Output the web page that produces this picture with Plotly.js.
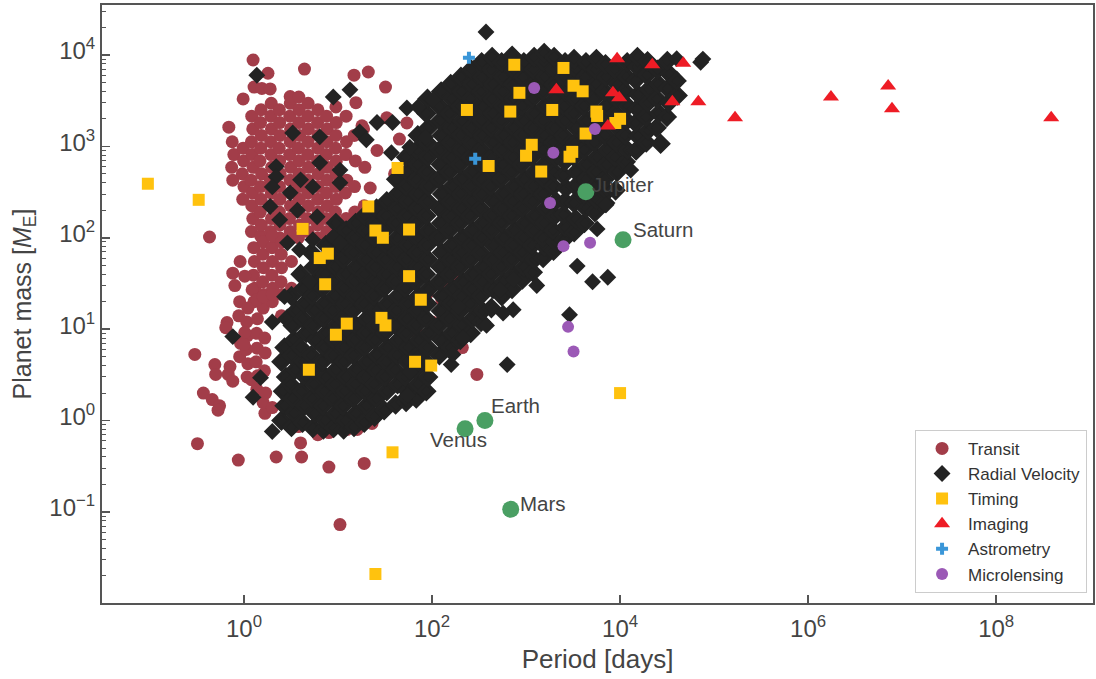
<!DOCTYPE html>
<html>
<head>
<meta charset="utf-8">
<script src="https://cdn.plot.ly/plotly-3.0.1.min.js"></script>
<style>html,body{margin:0;padding:0;background:#fff;}#chart{width:1096px;height:679px;}</style>
</head>
<body>
<div id="chart"></div>
<script>
// ---- Data: [period (days), planet mass (Earth masses)] ----
const transitHotJupiters = [
[0.76,427],[0.74,589],[0.78,813],[0.75,1122],[0.69,1620],
[0.97,263],[1.0,363],[0.96,501],[0.99,692],[0.98,955],[0.98,3300],
[1.2,117],[1.24,162],[1.21,224],[1.23,309],[1.19,427],[1.25,589],[1.22,813],[1.2,1122],[1.24,1549],[1.21,2138],[1.25,8800],[1.28,4450],
[1.5,105],[1.53,138],[1.49,191],[1.52,263],[1.5,363],[1.54,501],[1.48,692],[1.51,955],[1.53,1318],[1.5,1820],[1.52,2512],[1.55,4300],
[1.92,117],[1.96,162],[1.93,224],[1.95,309],[1.91,427],[1.97,589],[1.94,813],[1.92,1122],[1.96,1549],[1.93,2138],[1.95,2951],[1.8,6300],[1.9,4250],
[2.4,100],[2.42,138],[2.38,191],[2.41,263],[2.39,363],[2.43,501],[2.4,692],[2.37,955],[2.42,1318],[2.4,1820],[2.38,2512],
[3.1,117],[3.05,162],[3.12,224],[3.08,309],[3.1,427],[3.14,589],[3.06,813],[3.1,1122],[3.13,1549],[3.07,2138],[3.11,2951],[3.1,3500],
[3.8,100],[3.9,138],[3.83,191],[3.87,263],[3.82,363],[3.88,501],[3.85,692],[3.8,955],[3.9,1318],[3.84,1820],[3.86,2512],[3.83,3467],[4.4,7000],
[4.8,117],[4.75,162],[4.85,224],[4.78,309],[4.82,427],[4.86,589],[4.77,813],[4.8,1122],[4.84,1549],[4.79,2138],[4.81,2951],
[6.1,100],[6.05,138],[6.15,191],[6.08,263],[6.12,363],[6.16,501],[6.06,692],[6.1,955],[6.14,1318],[6.07,1820],[6.11,2512],
[7.6,117],[7.5,162],[7.7,224],[7.55,309],[7.65,427],[7.7,589],[7.52,813],[7.6,1122],[7.68,1549],[7.56,2138],
[9.5,138],[9.4,191],[9.6,263],[9.45,363],[9.55,501],[9.6,692],[9.42,955],[9.5,1318],[9.58,1820],[9.5,2700],
[12.2,162],[12.0,309],[12.4,427],[12.1,813],[12.3,1122],[12.2,2138],
[15.1,191],[15.0,363],[15.3,692],[14.9,1318],[15.5,3000],[14.8,6000],
[19,224],[19.3,589],[18.7,1549],[21,6500],[18,1680],
[32,4450],[33,2050],[54,1800],[48,260],[69,850],[26,900],[40,500],[22,350],[45,1200],[60,400]
];
const transitSmall = [
[1.28,20],[1.3,28],[1.26,39],[1.29,55],[1.27,78],
[1.6,17],[1.62,24],[1.58,33],[1.61,47],[1.59,66],[1.6,90],
[2.0,20],[2.02,28],[1.98,39],[2.01,55],[1.99,78],[2.0,105],
[2.5,14],[2.52,24],[2.48,33],[2.51,47],[2.49,66],[2.5,90],
[3.2,28],[3.2,55],[3.2,105],
[0.9,5],[0.92,7],[0.88,14],[0.9,20],[0.91,55],
[1.08,3],[1.1,4.2],[1.06,6],[1.09,8.5],[1.07,12],[1.1,17],
[1.37,2.2],[1.4,3.1],[1.35,4.4],[1.38,6.2],[1.36,9],[1.39,13],
[1.67,1.2],[1.7,2],[1.65,3.5],[1.68,5.5],[1.66,8],
[1.0,6.8],[1.2,2.8],
[22,3.2],[30,4.4],[48,6],[70,9],[35,2.3],[100,12],[120,8],[140,30],[90,25]
];
const transitScattered = [
[0.3,5.3],[0.32,0.56],[0.43,102],[0.37,2.0],[0.49,4.1],[0.5,3.2],[0.46,1.7],[0.55,1.45],[0.53,1.3],
[0.66,11.8],[0.64,10.4],[0.71,3.9],[0.68,3.2],[0.76,2.7],[0.76,41],[1.02,38],[0.8,30],[0.87,0.37],[1.02,9.2],
[1.22,27],[1.37,21],[1.6,22.7],[2.0,24],[1.6,1.57],[2.0,1.39],[2.2,0.4],[4.1,0.4],[3.8,0.86],[4.0,0.57],
[6.1,0.7],[8,0.74],[12.5,0.8],[16,0.8],[23,0.93],[8,0.31],[19,0.34],[10.5,0.073],
[180,37],[280,37],[210,6.3],[290,15.5],[300,3.2],[127,21]
];
const rvSmall = [
[2.5,1.0],[2.7,1.45],[2.6,2.1],[2.8,3.0],[2.5,4.4],[2.7,6.3],[2.9,13],
[3.2,0.85],[3.4,1.2],[3.3,1.75],[3.1,2.5],[3.5,3.6],[3.2,5.2],[3.4,7.6],[3.3,11],[3.6,16],[3.2,23],
[4.2,0.95],[4.4,1.45],[4.1,2.1],[4.5,3.0],[4.3,4.4],[4.0,6.3],[4.6,9.1],[4.2,13],[4.4,19],[4.3,28],[4.0,40],
[5.4,0.83],[5.7,1.2],[5.3,1.75],[5.6,2.5],[5.5,3.6],[5.2,5.2],[5.8,7.6],[5.4,11],[5.6,16],[5.3,23],[5.7,33],[5.5,48],[5.2,69],
[7.0,0.8],[7.3,1.0],[6.9,1.45],[7.2,2.1],[7.4,3.0],[6.8,4.4],[7.1,6.3],[7.5,9.1],[7.0,13],[7.2,19],[6.9,28],[7.3,40],[7.1,58],[7.4,83],
[9.0,0.83],[9.4,1.2],[8.8,1.75],[9.2,2.5],[9.5,3.6],[8.9,5.2],[9.1,7.6],[9.6,11],[8.7,16],[9.3,23],[9.0,33],[9.4,48],[8.8,69],[9.2,100],[9.5,145],
[11.5,0.8],[12,1.0],[11.3,1.45],[11.8,2.1],[12.2,3.0],[11.4,4.4],[11.7,6.3],[12.3,9.1],[11.2,13],[11.9,19],[11.6,28],[12.1,40],[11.4,58],[11.8,83],[12.2,120],
[14.8,0.85],[15.5,1.2],[14.5,1.75],[15.2,2.5],[15.7,3.6],[14.6,5.2],[15,7.6],[15.6,11],[14.4,16],[15.3,23],[14.9,33],[15.5,48],[14.7,69],[15.1,100],[15.4,145],
[19,0.95],[20,1.45],[19.3,2.1],[19.8,3.0],[20.3,4.4],[19,6.3],[19.6,9.1],[20.2,13],[18.8,19],[19.7,28],[19.2,40],[20,58],[19.4,83],[19.9,120],[19.1,174],
[24.5,1.1],[25.5,1.75],[24.2,2.5],[25.2,3.6],[26,5.2],[24.6,7.6],[25,11],[25.8,16],[24.3,23],[25.4,33],[24.8,48],[25.6,69],[24.4,100],[25.1,145],[25.7,209],
[31,1.3],[33,2.1],[31.5,3.0],[32.5,4.4],[33.5,6.3],[31.2,9.1],[32,13],[33.2,19],[31,28],[32.6,40],[31.8,58],[33,83],[31.4,120],[32.3,174],[33,251],
[41,1.5],[43,2.5],[40.5,3.6],[42.5,5.2],[44,7.6],[41.2,11],[42,16],[43.5,23],[40.8,33],[42.7,48],[41.6,69],[43.2,100],[41,145],[42.3,209],[43,302],[41.5,437],
[53,1.6],[55,2.1],[52,3.0],[54.5,4.4],[56,6.3],[52.5,9.1],[54,13],[55.5,19],[52,28],[54.8,40],[53.3,58],[55.2,83],[52.6,120],[54.2,174],[55.6,251],[53,363],[54.5,525],[52.8,759],
[68,1.75],[71,2.5],[67,3.6],[70,5.2],[72,7.6],[67.5,11],[69,16],[71.5,23],[67,33],[70.2,48],[68.5,69],[71,100],[67.8,145],[69.6,209],[71.2,302],[68,437],[70,631],[68.8,912],[70.5,1320],
[87,2.1],[91,3.0],[86,4.4],[90,6.3],[92.5,9.1],[86.5,13],[89,19],[92,27.5],[86,40],[90.5,58],[88,83],[91.5,120],[87,174],[89.5,251],[92,363],[87.5,525],[90,759],[88.5,1100],[91,1585],[87,2290],[89.5,3310]
];
const rvGiants = [
[120,5.2],[126,7.6],[118,11],[124,15.8],[128,23],[119,33],[123,48],[127,69],[117,100],[125,145],[121,209],[128,302],[118,437],[124,631],[120,912],[127,1320],[122,1905],[119,2750],[125,3980],
[155,6.3],[162,9.1],[152,13],[160,19],[165,27.5],[153,40],[158,58],[163,83],[151,120],[159,174],[156,251],[164,363],[152,525],[160,759],[157,1100],[163,1585],[154,2290],[161,3310],[158,4790],
[200,7.6],[208,11],[197,15.8],[206,23],[212,33],[198,48],[204,69],[210,100],[196,145],[205,209],[201,302],[209,437],[197,631],[206,912],[202,1320],[208,1905],[199,2750],[205,3980],[203,5750],
[258,9.1],[268,13],[254,19],[265,27.5],[272,40],[256,58],[263,83],[270,120],[252,174],[264,251],[259,363],[269,525],[255,759],[265,1100],[260,1585],[267,2290],[257,3310],[264,4790],[261,6920],
[332,12],[345,15.8],[328,23],[341,33],[350,48],[330,69],[339,100],[348,145],[326,209],[340,302],[334,437],[346,631],[329,912],[342,1320],[336,1905],[344,2750],[331,3980],[340,5750],[337,8320],
[428,17],[445,27.5],[422,40],[440,58],[452,83],[426,120],[437,174],[448,251],[421,363],[438,525],[431,759],[446,1100],[425,1585],[441,2290],[433,3310],[444,4790],[428,6920],[436,9500],
[552,23],[572,33],[545,48],[566,69],[580,100],[548,145],[562,209],[576,302],[542,437],[564,631],[555,912],[574,1320],[547,1905],[568,2750],[558,3980],[571,5750],[550,8320],
[710,27.5],[738,40],[702,58],[730,83],[748,120],[706,174],[724,251],[742,363],[698,525],[727,759],[715,1100],[740,1585],[704,2290],[733,3310],[719,4790],[736,6920],[712,9800],
[915,35],[950,48],[905,69],[940,100],[965,145],[910,209],[933,302],[958,437],[900,631],[937,912],[922,1320],[953,1905],[908,2750],[944,3980],[927,5750],[948,8320],
[1180,42],[1225,58],[1165,83],[1210,120],[1240,174],[1170,251],[1200,363],[1232,525],[1158,759],[1205,1100],[1185,1585],[1228,2290],[1168,3310],[1215,4790],[1192,6920],[1220,9500],
[1520,60],[1580,80],[1505,100],[1565,145],[1600,209],[1515,302],[1550,437],[1590,631],[1495,912],[1558,1320],[1530,1905],[1585,2750],[1510,3980],[1570,5750],[1540,8320],[1560,10500],
[1960,72],[2050,90],[1940,120],[2030,174],[2080,251],[1950,363],[2000,525],[2060,759],[1930,1100],[2015,1585],[1975,2290],[2045,3310],[1955,4790],[2025,6920],[1990,9500],
[2520,95],[2620,130],[2490,180],[2600,250],[2660,350],[2500,480],[2570,680],[2640,950],[2480,1320],[2590,1905],[2540,2750],[2630,3980],[2510,5750],[2600,8320],
[3250,115],[3380,160],[3220,240],[3350,363],[3420,525],[3230,759],[3310,1100],[3400,1585],[3200,2290],[3330,3310],[3270,4790],[3390,6920],[3240,9000],
[4180,145],[4360,209],[4130,302],[4320,437],[4400,631],[4150,912],[4270,1320],[4380,1905],[4120,2750],[4300,3980],[4220,5750],[4340,8320],
[5400,190],[5620,260],[5330,363],[5560,525],[5680,759],[5360,1100],[5500,1585],[5640,2290],[5300,3310],[5540,4790],[5450,6920],[5600,9000],
[6950,240],[7250,320],[6850,437],[7150,631],[7300,912],[6900,1320],[7080,1905],[7220,2750],[6820,3980],[7120,5750],[7000,7900],
[8950,330],[9300,525],[8850,759],[9200,1100],[9400,1585],[8900,2290],[9120,3310],[9350,4790],[8800,6920],
[11500,680],[12000,912],[11300,1320],[11800,1905],[12100,2750],[11400,3980],[11700,5750],[11900,8320],
[14800,900],[15400,1300],[14600,1800],[15200,2600],[15500,3700],[14700,5300],[15100,7400],[15300,9500],
[19000,1100],[20000,1500],[18800,2100],[19800,3000],[20200,4200],[19200,6000],[19600,8500],
[27000,1070],[24500,1600],[25800,2300],[24800,3300],[25500,4800],[25000,6900],
[31500,2100],[33000,3000],[32000,4300],[33500,6200],[31800,8600],
[41000,3600],[40000,5200]
];
const rvScattered = [
[40000,9100],[72000,8300],[76000,9000],[13000,550],
[375,17800],[1.37,6000],[630,4.1],[2900,14.4],[1300,30],[3500,49],[5100,33],[7400,37],[7100,230],[5700,125],
[380,11],[730,16.3],[570,15],[215,8],[160,4.1],[52,1.8],[58,3.4],[740,35],[530,27],[190,17.6],[167,5.3],[55,1.9],
[2.0,0.76],[0.76,8.3],[1.25,1.8],[1.5,2.95],[2.0,12],[2.7,22.7],
[3.3,1400],[8.9,3470],[13.4,4150],[6.4,1270],[2.2,600],[2.2,465],[6.4,660],[10.5,550],[2.0,360],[4.0,430],[5.4,360],[10.5,400],[3.1,310],
[17,1440],[20,1180],[26,1820],[38,1820],[37,850],[58,980],[85,1260],[102,3230],[54,2630],[71,2700],
[1.9,220],[2.4,157],[3.7,200],[6.0,170],[8.9,102],[3.9,74],[2.9,88],[5.4,95],[10.5,88],[5.0,33]
];
const timing = [
[0.095,390],[0.33,260],[25,0.021],[38,0.45],[10000,2.0],[4.9,3.6],[66,4.4],[98,4.0],[4.2,125],[43,580],[21,220],
[25,120],[30,100],[57,123],[6.4,60],[7.8,67],[7.3,31],[57,38],[76,21],[12.4,11.5],[9.5,8.7],[29,13.3],[32,11],
[750,7800],[2500,7200],[850,3850],[3200,4600],[4000,4000],[235,2500],[680,2400],[1900,2500],[5600,2400],[5700,2150],
[10000,2000],[8900,1800],[4300,1380],[1150,1040],[1000,790],[3100,870],[2900,770],[400,610],[1450,530]
];
const imaging = [
[9300,9100],[22000,7800],[47000,8100],[2100,4150],[8400,3850],[9800,3400],[36000,3080],[68000,3080],
[167000,2050],[7400,1670],[1.75e6,3470],[7.1e6,4560],[7.8e6,2570],[3.85e8,2050]
];
const astrometry = [[247,9300],[288,730]];
const microlensing = [[1220,4350],[5400,1550],[1950,850],[1800,240],[2500,81],[4800,88],[2800,10.6],[3200,5.7]];
const solarNames = ['Venus','Earth','Mars','Jupiter','Saturn'];
const solarPeriod = [224.7,365.25,687,4332.6,10759];
const solarMass = [0.815,1.0,0.107,317.8,95.2];
const xTickVals = [1,100,1e4,1e6,1e8];
const xTickText = ['10<sup>0</sup>','10<sup>2</sup>','10<sup>4</sup>','10<sup>6</sup>','10<sup>8</sup>'];
const yTickVals = [0.1,1,10,100,1000,10000];
const yTickText = ['10<sup>\u22121</sup>','10<sup>0</sup>','10<sup>1</sup>','10<sup>2</sup>','10<sup>3</sup>','10<sup>4</sup>'];

// ---- build ----
const xs = a => a.map(p => p[0]);
const ys = a => a.map(p => p[1]);
function sc(name, pts, symbol, color, size, lw){
  return {type:'scatter', mode:'markers', name:name, x:xs(pts), y:ys(pts),
    marker:{symbol:symbol, color:color, size:size, line:{width:lw || 0, color:color}}, hoverinfo:'skip'};
}
const transit = transitHotJupiters.concat(transitSmall, transitScattered);
const rvDense = rvSmall.concat(rvGiants);
const rvDenseTrace = sc('Radial Velocity', rvDense, 'diamond', '#232323', 12, 3.5);
rvDenseTrace.showlegend = false;
rvDenseTrace.legendgroup = 'rv';
const rvTrace = sc('Radial Velocity', rvScattered, 'diamond', '#232323', 13);
rvTrace.legendgroup = 'rv';
const traces = [
  sc('Transit', transit, 'circle', '#a23d49', 13),
  rvDenseTrace,
  rvTrace,
  sc('Timing', timing, 'square', '#ffc20e', 12),
  sc('Imaging', imaging, 'triangle-up', '#ee1c25', 14),
  sc('Astrometry', astrometry, 'cross', '#3a96d8', 10),
  sc('Microlensing', microlensing, 'circle', '#9b59b6', 12),
  {type:'scatter', mode:'markers', name:'Solar System', showlegend:false, x:solarPeriod, y:solarMass,
   marker:{symbol:'circle', color:'#4a9f63', size:17, line:{width:0}}, hoverinfo:'skip'}
];
const labelShift = {Venus:[24,-11,'right'], Earth:[4,15,'left'], Mars:[7,6,'left'], Jupiter:[4,7,'left'], Saturn:[8,10,'left']};
const annotations = solarNames.map((n,i) => ({
  x: Math.log10(solarPeriod[i]), y: Math.log10(solarMass[i]), xref:'x', yref:'y', text:n, showarrow:false,
  xanchor: labelShift[n][2], yanchor:'middle', xshift: labelShift[n][0], yshift: labelShift[n][1],
  font:{size:20.5, color:'#444'}
}));
const yMinor = [];
for (let k = -2; k <= 4; k++) for (let m = 2; m <= 9; m++) yMinor.push(m * Math.pow(10, k));

const layout = {
  width:1096, height:679,
  margin:{l:102, r:3, t:5, b:76},
  paper_bgcolor:'#ffffff', plot_bgcolor:'#ffffff',
  font:{family:'Liberation Sans, Arial, sans-serif', color:'#444'},
  showlegend:true,
  xaxis:{type:'log', range:[-1.51, 9.03], tickmode:'array', tickvals:xTickVals, ticktext:xTickText,
    ticks:'inside', ticklen:8, tickwidth:1.5, tickcolor:'#555', showline:true, linecolor:'#555', linewidth:2,
    mirror:true, showgrid:false, zeroline:false, tickfont:{size:24, color:'#444'}, ticklabelstandoff:3,
    title:{text:'Period [days]', font:{size:26, color:'#444'}, standoff:9}},
  yaxis:{type:'log', range:[-1.995, 4.546], tickmode:'array', tickvals:yTickVals, ticktext:yTickText,
    ticks:'inside', ticklen:8, tickwidth:1.5, tickcolor:'#555', showline:true, linecolor:'#555', linewidth:2,
    mirror:true, showgrid:false, zeroline:false, tickfont:{size:24, color:'#444'}, ticklabelshift:-4,
    minor:{tickmode:'array', tickvals:yMinor, ticks:'inside', ticklen:4, tickwidth:1, tickcolor:'#555', showgrid:false},
    title:{text:'Planet mass [<i>M</i><sub>E</sub>]', font:{size:25, color:'#444'}, standoff:11}},
  legend:{x:0.994, y:0.017, xanchor:'right', yanchor:'bottom', bgcolor:'#ffffff', bordercolor:'#cccccc',
    borderwidth:1, font:{size:17, color:'#333'}, itemwidth:42, traceorder:'normal'},
  annotations: annotations
};
Plotly.newPlot('chart', traces, layout, {displayModeBar:false, staticPlot:true});
</script>
</body>
</html>
